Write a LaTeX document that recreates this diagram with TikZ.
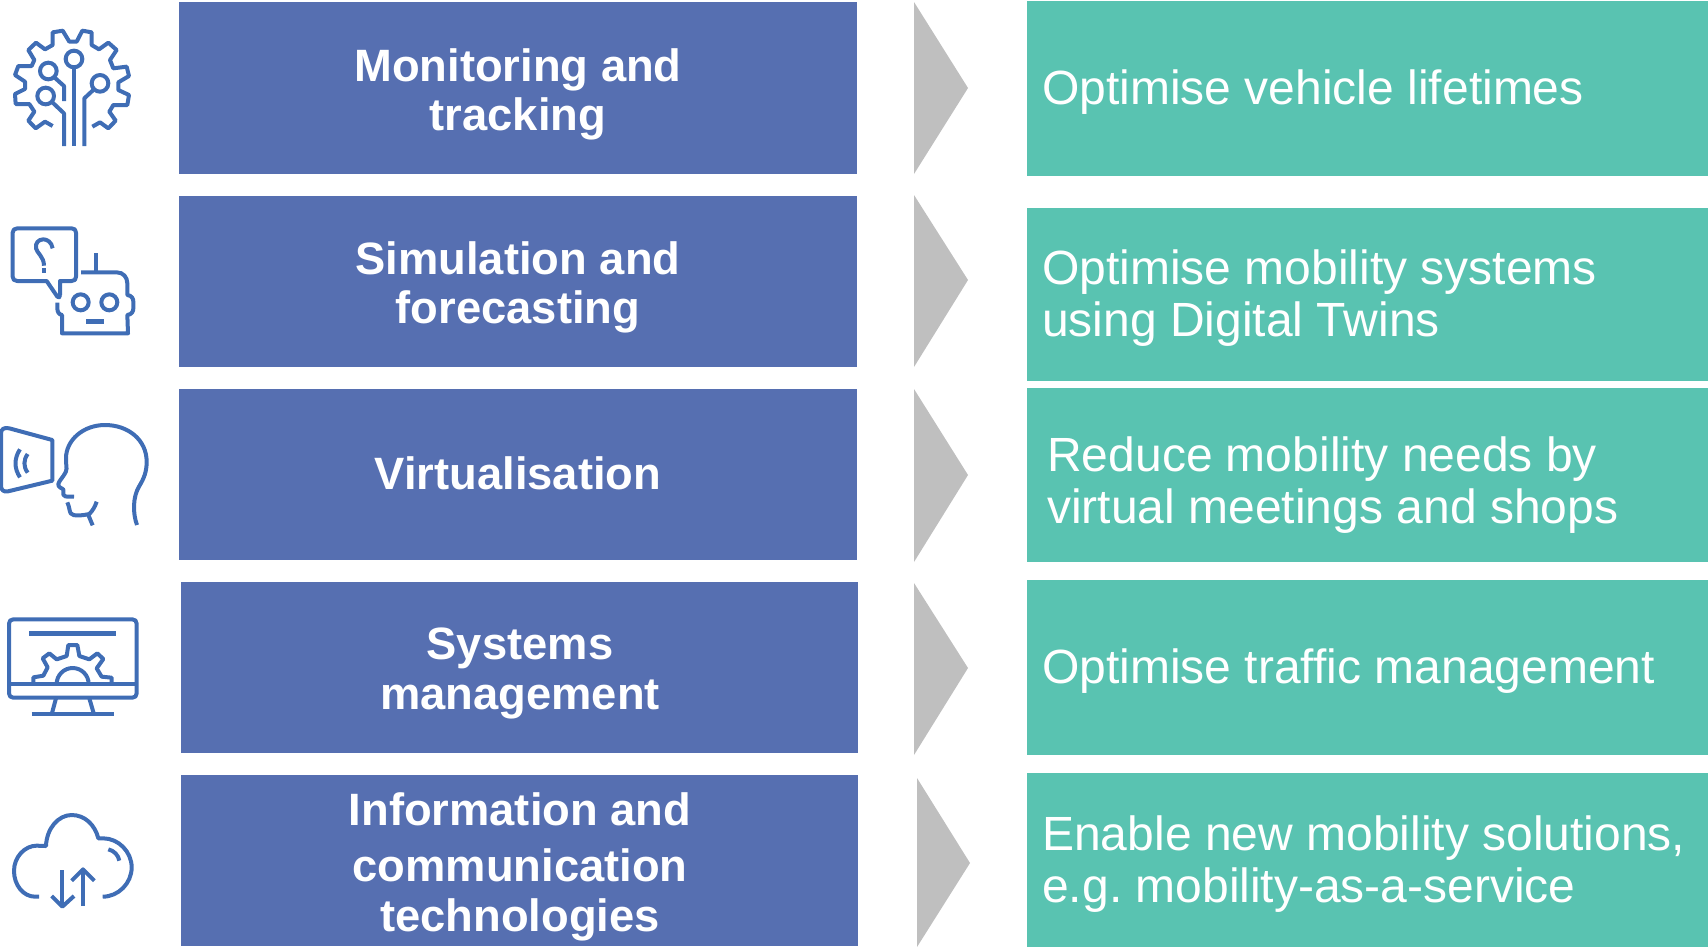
\documentclass[tikz,border=0pt]{standalone}
\usepackage{fontspec}
\setmainfont{Liberation Sans}
\frenchspacing
\definecolor{bluebox}{HTML}{566FB1}
\definecolor{greenbox}{HTML}{59C3B1}
\definecolor{greyarrow}{HTML}{BFBFBF}
\definecolor{iconblue}{HTML}{3F6DB5}
\tikzset{
  x=0.75pt,y=-0.75pt,
  bluerect/.style={fill=bluebox,draw=none},
  greenrect/.style={fill=greenbox,draw=none},
  chevron/.style={fill=greyarrow,draw=none},
  bluetext/.style={text=white,font=\fontsize{34pt}{37pt}\selectfont\bfseries,align=center,inner sep=0},
  greentext/.style={text=white,font=\fontsize{36pt}{39pt}\selectfont,align=left,inner sep=0,anchor=west},
  icon/.style={draw=iconblue,line width=3pt,line join=round,fill=none},
  iconfill/.style={fill=iconblue,draw=none},
  zoomed/.style={x=0.25pt,y=-0.25pt},
}
\begin{document}
\begin{tikzpicture}
\useasboundingbox (0,0) rectangle (1708,947);
% blue boxes
\path[bluerect] (179,2) rectangle (857,174);
\path[bluerect] (179,196) rectangle (857,367);
\path[bluerect] (179,389) rectangle (857,560);
\path[bluerect] (181,582) rectangle (858,753);
\path[bluerect] (181,775) rectangle (858,946);
\node[bluetext] (b1) at (518,94.5) {Monitoring and\\tracking};
\node[bluetext] (b2) at (518,287.5) {Simulation and\\forecasting};
\node[bluetext] (b3) at (518,473) {Virtualisation};
\node[bluetext] (b4) at (520,673.5) {Systems\\management};
\node[bluetext] (b5) at (520,867) {Information and\\[5pt]communication\\technologies};
% arrows
\path[chevron] (914,2) -- (968,88) -- (914,174) -- cycle;
\path[chevron] (914,195) -- (968,280) -- (914,367) -- cycle;
\path[chevron] (914,389) -- (968,475) -- (914,562) -- cycle;
\path[chevron] (914,583) -- (968,668) -- (914,755) -- cycle;
\path[chevron] (917,778) -- (970,863) -- (917,947) -- cycle;
% green boxes
\path[greenrect] (1027,1) rectangle (1708,176);
\path[greenrect] (1027,208) rectangle (1708,381);
\path[greenrect] (1027,388) rectangle (1708,562);
\path[greenrect] (1027,580) rectangle (1708,755);
\path[greenrect] (1027,773) rectangle (1708,947);
\node[greentext] (g1) at (1042,92) {Optimise vehicle lifetimes};
\node[greentext] (g2) at (1042,298) {Optimise mobility systems\\using Digital Twins};
\node[greentext] (g3) at (1047,485) {Reduce mobility needs by\\virtual meetings and shops};
\node[greentext] (g4) at (1042,671) {Optimise traffic management};
\node[greentext] (g5) at (1042,864) {Enable new mobility solutions,\\e.g. mobility-as-a-service};
% icon 1: gear with circuit
\begin{scope}[zoomed]
\draw[icon] (158,378) -- (135,365) -- (107,385) -- (85,362) -- (103,335) -- (88,312) -- (47,312) -- (45,282) -- (75,267) -- (75,245) -- (45,225) -- (55,198) -- (95,198) -- (103,180) -- (85,150) -- (108,128) -- (135,148) -- (158,135) -- (158,97) -- (188,92) -- (208,125) -- (230,125) -- (247,92) -- (275,97) -- (275,135) -- (297,148) -- (325,128) -- (350,150) -- (330,180) -- (340,205) -- (380,200) -- (387,228) -- (355,247) -- (355,270) -- (387,285) -- (382,315) -- (340,315) -- (328,335) -- (347,362) -- (325,385) -- (300,367) -- (277,380);
\draw[icon] (222,177) circle[radius=25];
\draw[icon] (145,213) circle[radius=25];
\draw[icon] (137,288) circle[radius=25];
\draw[icon] (300,250) circle[radius=25];
\draw[icon] (222,202) -- (222,438);
\draw[icon] (163,232) -- (192,258) -- (192,303);
\draw[icon] (155,305) -- (192,340) -- (192,438);
\draw[icon] (282,268) -- (253,295) -- (253,438);
\end{scope}
% icon 2: robot with speech bubble
\begin{scope}[yshift=-150pt,zoomed]
\draw[icon] (180,285) -- (180,243) -- (215,243) .. controls (224,243) and (228,238) .. (228,230) -- (228,98) .. controls (228,90) and (224,85) .. (215,85) -- (52,85) .. controls (43,85) and (38,90) .. (38,98) -- (38,230) .. controls (38,238) and (43,243) .. (52,243) -- (140,243) -- (172,290) .. controls (176,295) and (180,292) .. (180,285);
\draw[icon] (158,145) .. controls (155,125) and (140,118) .. (130,118) .. controls (115,118) and (105,130) .. (108,145) .. controls (110,158) and (132,170) .. (132,197);
\path[iconfill] (125,203) rectangle (139,218);
\draw[icon] (243,217) -- (350,217) .. controls (370,217) and (382,232) .. (382,250) -- (382,285) .. controls (395,287) and (400,295) .. (400,305) -- (400,325) .. controls (400,335) and (395,343) .. (382,345) -- (384,400) -- (186,400) -- (186,345) .. controls (176,343) and (172,335) .. (172,325) -- (172,308);
\draw[icon] (289,160) -- (289,217);
\draw[icon] (242,307) circle[radius=24];
\draw[icon] (328,307) circle[radius=24];
\path[iconfill] (257,358) rectangle (313,372);
\end{scope}
% icon 3: head and speech screen
\begin{scope}[yshift=-292.5pt,zoomed]
\draw[icon] (157,150) -- (28,115) .. controls (12,111) and (3,118) .. (3,130) -- (3,288) .. controls (3,300) and (12,307) .. (24,304) -- (157,272) -- cycle;
\draw[icon] (60,178) .. controls (42,205) and (42,235) .. (60,262);
\draw[icon] (83,192) .. controls (70,210) and (70,230) .. (83,248);
\draw[icon] (411,405) .. controls (398,370) and (398,320) .. (418,288) .. controls (432,265) and (440,245) .. (440,215) .. controls (440,150) and (385,105) .. (315,105) .. controls (250,105) and (198,150) .. (198,205) .. controls (198,240) and (205,235) .. (190,258) .. controls (180,272) and (172,280) .. (176,288) .. controls (180,296) and (195,295) .. (190,305) -- (190,314) .. controls (191,320) and (195,320) .. (222,320);
\draw[icon] (202,337) .. controls (208,350) and (208,362) .. (212,370) .. controls (218,380) and (250,376) .. (268,372) .. controls (278,362) and (285,350) .. (290,335);
\draw[icon] (265,375) -- (278,406);
\end{scope}
% icon 4: monitor with gear
\begin{scope}[yshift=-442.5pt,zoomed]
\draw[icon] (40,88) -- (397,88) .. controls (405,88) and (410,93) .. (410,101) -- (410,310) .. controls (410,318) and (405,323) .. (397,323) -- (40,323) .. controls (32,323) and (27,318) .. (27,310) -- (27,101) .. controls (27,93) and (32,88) .. (40,88) -- cycle;
\draw[icon] (27,282) -- (410,282);
\path[iconfill] (87,123) rectangle (348,137);
\draw[icon] (100,282) -- (100,262) -- (130,257) -- (143,232) -- (128,205) -- (148,190) -- (170,208) -- (200,198) -- (205,165) -- (232,165) -- (238,198) -- (268,208) -- (292,190) -- (310,207) -- (290,235) -- (305,260) -- (335,263) -- (335,282);
\draw[icon] (170,282) arc[start angle=180,end angle=360,radius=48];
\draw[icon] (168,325) -- (155,373);
\draw[icon] (268,325) -- (282,373);
\draw[icon] (95,373) -- (342,373);
\end{scope}
% icon 5: cloud with arrows
\begin{scope}[yshift=-592.5pt,zoomed]
\draw[icon] (117,320) -- (105,320) .. controls (70,320) and (42,285) .. (42,243) .. controls (42,200) and (75,167) .. (110,167) -- (138,168) .. controls (140,115) and (175,75) .. (215,75) .. controls (255,75) and (285,105) .. (295,145) -- (310,145) .. controls (355,145) and (395,185) .. (395,232) .. controls (395,280) and (355,320) .. (308,320);
\draw[icon] (325,178) .. controls (342,182) and (355,195) .. (358,212);
\draw[icon] (187,240) -- (187,350);
\draw[icon] (155,318) -- (187,350) -- (222,318);
\draw[icon] (249,348) -- (249,238);
\draw[icon] (215,272) -- (249,238) -- (283,272);
\end{scope}
\end{tikzpicture}
\end{document}
